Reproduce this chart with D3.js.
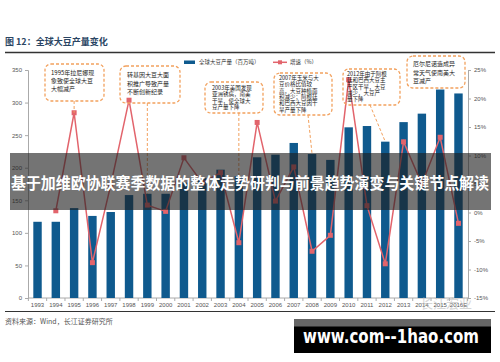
<!DOCTYPE html>
<html>
<head>
<meta charset="utf-8">
<script src="https://cdn.jsdelivr.net/npm/d3@7"></script>
<style>
html,body{margin:0;padding:0;background:#fff;}
svg{display:block;font-family:"Noto Sans CJK SC","Noto Sans",sans-serif;}
</style>
</head>
<body>
<svg id="chart" width="500" height="362"></svg>
<script>
const years = ["1993","1994","1995","1996","1997","1998","1999","2000","2001","2002","2003","2004","2005","2006","2007","2008","2009","2010","2011","2012","2013","2014","2015","2016E"];
const production = [117,117,138,126,132,158,160,160,177,184,197,187,216,220,238,221,212,262,264,240,270,283,320,314];
const growth = [null,0.3,17.5,-8.8,4.8,19.7,1.3,0.2,9.6,5.2,7.0,-5.3,15.8,2.0,8.0,-6.8,-4.0,23.3,1.2,-9.0,12.4,5.0,13.2,-1.9];
const leftTicks = [0,50,100,150,200,250,300,350];
const rightTicks = [-15,-10,-5,0,5,10,15,20,25];
const seriesNames = ["全球大豆产量（百万吨）","增速（%）"];
const titleText = "图 12：全球大豆产量变化";
const sourceText = "资料来源：Wind，长江证券研究所";
const annotations = [
  {lines:["1995年拉尼娜现","象致使全球大豆","大幅减产"], year:"1995", target:"point"},
  {lines:["转基因大豆大面","积推广导致产量","不断创新纪录"], year:"1999", target:"bar"},
  {lines:["2003年美国发现","亚洲锈病，南美","干旱，使全球大","豆产量下降"], year:"2004", target:"bar"},
  {lines:["2007年玉米与大","豆价格比值较","高，大豆种植面","积减少；阿根廷","和巴西大豆因干","旱产量下降"], year:"2008", target:"bar"},
  {lines:["2012年由于阿根","廷和巴西大豆主","产区干旱，大豆","减少，大豆产","量下降"], year:"2012", target:"bar"},
  {lines:["厄尔尼诺造成异","常天气使南美大","豆减产"], year:null, target:null}
];
const bannerText = "基于加维欧协联赛季数据的整体走势研判与前景趋势演变与关键节点解读";
const siteText = "www.com--1hao.com";

const svg = d3.select("#chart");
const barColor = "#0f5a8e", lineColor = "#e2646c", boxColor = "#f2a15e";

const x = d3.scaleBand().domain(years).range([28,468]).paddingInner(0.54).paddingOuter(0.29);
const y = d3.scaleLinear().domain([0,350]).range([298,70]);
const y2 = d3.scaleLinear().domain([-15,25]).range([298,70]);

// title + rules
svg.append("text").attr("x",5).attr("y",45).attr("font-size",9).attr("font-weight","bold").attr("fill","#2a4563").text(titleText);
svg.append("line").attr("x1",5).attr("x2",495).attr("y1",52.5).attr("y2",52.5).attr("stroke","#333").attr("stroke-width",1.4);
svg.append("line").attr("x1",5).attr("x2",495).attr("y1",311.5).attr("y2",311.5).attr("stroke","#333").attr("stroke-width",1);
svg.append("text").attr("x",5).attr("y",323.5).attr("font-size",7).attr("fill","#555").text(sourceText);

// legend
svg.append("rect").attr("x",184).attr("y",60.5).attr("width",11).attr("height",3.5).attr("fill",barColor);
svg.append("text").attr("x",199).attr("y",64.3).attr("font-size",5.5).attr("fill","#333").text(seriesNames[0]);
svg.append("line").attr("x1",273).attr("x2",287).attr("y1",62.3).attr("y2",62.3).attr("stroke",lineColor).attr("stroke-width",1.5);
svg.append("rect").attr("x",278).attr("y",60.3).attr("width",4).attr("height",4).attr("fill",lineColor);
svg.append("text").attr("x",290).attr("y",64.3).attr("font-size",5.5).attr("fill","#333").text(seriesNames[1]);

// axes
const axL = svg.append("g").attr("transform","translate(28,0)")
  .call(d3.axisLeft(y).tickValues(leftTicks).tickSize(3).tickPadding(3));
const axR = svg.append("g").attr("transform","translate(468,0)")
  .call(d3.axisRight(y2).tickValues(rightTicks).tickSize(3).tickPadding(3).tickFormat(d=>d+"%"));
const axB = svg.append("g").attr("transform","translate(0,298)")
  .call(d3.axisBottom(x).tickSize(0).tickPadding(5));
[axL,axR,axB].forEach(g=>{
  g.selectAll("path").attr("stroke","#aaa");
  g.selectAll("line").attr("stroke","#aaa");
  g.selectAll("text").attr("font-size",6).attr("fill","#555").attr("font-family","Liberation Sans, Arial, sans-serif");
});
axB.select("path").attr("d","M28,0H468");
// category boundary ticks
axB.selectAll(".bt").data(years.concat(["end"])).enter().append("line")
  .attr("x1",(d,i)=> i<years.length ? x(d)-x.step()*x.paddingInner()/2 : x(years[years.length-1])+x.bandwidth()+x.step()*x.paddingInner()/2)
  .attr("x2",function(){return d3.select(this).attr("x1");})
  .attr("y1",0).attr("y2",3).attr("stroke","#aaa");

// bars
svg.append("g").selectAll("rect").data(years).enter().append("rect")
  .attr("x",d=>x(d)).attr("width",x.bandwidth())
  .attr("y",(d,i)=>y(production[i])).attr("height",(d,i)=>y(0)-y(production[i]))
  .attr("fill",barColor);

// line
const pts = years.map((d,i)=>({d,v:growth[i]})).filter(p=>p.v!==null);
svg.append("path").datum(pts)
  .attr("d",d3.line().x(p=>x(p.d)+x.bandwidth()/2).y(p=>y2(p.v)))
  .attr("fill","none").attr("stroke",lineColor).attr("stroke-width",1.5);
svg.append("g").selectAll("rect").data(pts).enter().append("rect")
  .attr("x",p=>x(p.d)+x.bandwidth()/2-2.5).attr("y",p=>y2(p.v)-2.5)
  .attr("width",5).attr("height",5).attr("fill",lineColor);

// annotation boxes
const boxGeo = [
  {x:45,y:64,w:59,h:37,fs:6,lh:8.2,tx:51,ty:75},
  {x:120,y:66,w:60,h:37,fs:6,lh:8.6,tx:127,ty:77},
  {x:205,y:82,w:58,h:31,fs:5.5,lh:6.3,tx:212,ty:90},
  {x:274,y:73,w:58,h:42,fs:5.5,lh:6.3,tx:279,ty:80},
  {x:343,y:69,w:57,h:36,fs:5.5,lh:6.3,tx:347,ty:76},
  {x:407,y:56,w:58,h:32,fs:6,lh:8.6,tx:413,ty:66}
];
annotations.forEach((a,k)=>{
  const g = boxGeo[k];
  svg.append("rect").attr("x",g.x).attr("y",g.y).attr("width",g.w).attr("height",g.h).attr("rx",6)
    .attr("fill","none").attr("stroke",boxColor).attr("stroke-width",1.3).attr("stroke-dasharray","3,2");
  const t = svg.append("text").attr("font-size",g.fs).attr("fill","#222");
  a.lines.forEach((l,j)=>t.append("tspan").attr("x",g.tx).attr("y",g.ty+j*g.lh).text(l));
  if(a.year){
    const i = years.indexOf(a.year);
    const cx = x(a.year)+x.bandwidth()/2;
    const ty = a.target==="point" ? y2(growth[i]) : y(production[i]);
    const sx = k===4 ? 370 : (k===3 ? 308 : cx);
    svg.append("line").attr("x1",sx).attr("y1",g.y+g.h).attr("x2",cx).attr("y2",ty)
      .attr("stroke",boxColor).attr("stroke-width",1).attr("stroke-dasharray","3,2");
  }
});

// faint watermark logo
svg.append("text").attr("x",420).attr("y",308).attr("font-size",13).attr("fill","#bbb").attr("opacity",0.6).text("长江宏业");

// banner overlay
svg.append("rect").attr("x",10).attr("y",153).attr("width",481).attr("height",57).attr("fill","rgb(30,30,30)").attr("opacity",0.62);
svg.append("text").attr("x",11).attr("y",189).attr("font-size",15.5).attr("font-weight","bold").attr("fill","#fff")
  .attr("textLength",478).attr("lengthAdjust","spacingAndGlyphs").text(bannerText);

// site box
svg.append("rect").attr("x",294).attr("y",319).attr("width",197).attr("height",34).attr("fill","#000");
svg.append("rect").attr("x",294).attr("y",319).attr("width",197).attr("height",7.5).attr("fill","#666");
svg.append("text").attr("x",303).attr("y",343).attr("font-size",19).attr("font-weight","bold").attr("fill","#fff")
  .attr("font-family","DejaVu Sans, sans-serif").attr("textLength",176).attr("lengthAdjust","spacingAndGlyphs").text(siteText);
</script>
</body>
</html>
